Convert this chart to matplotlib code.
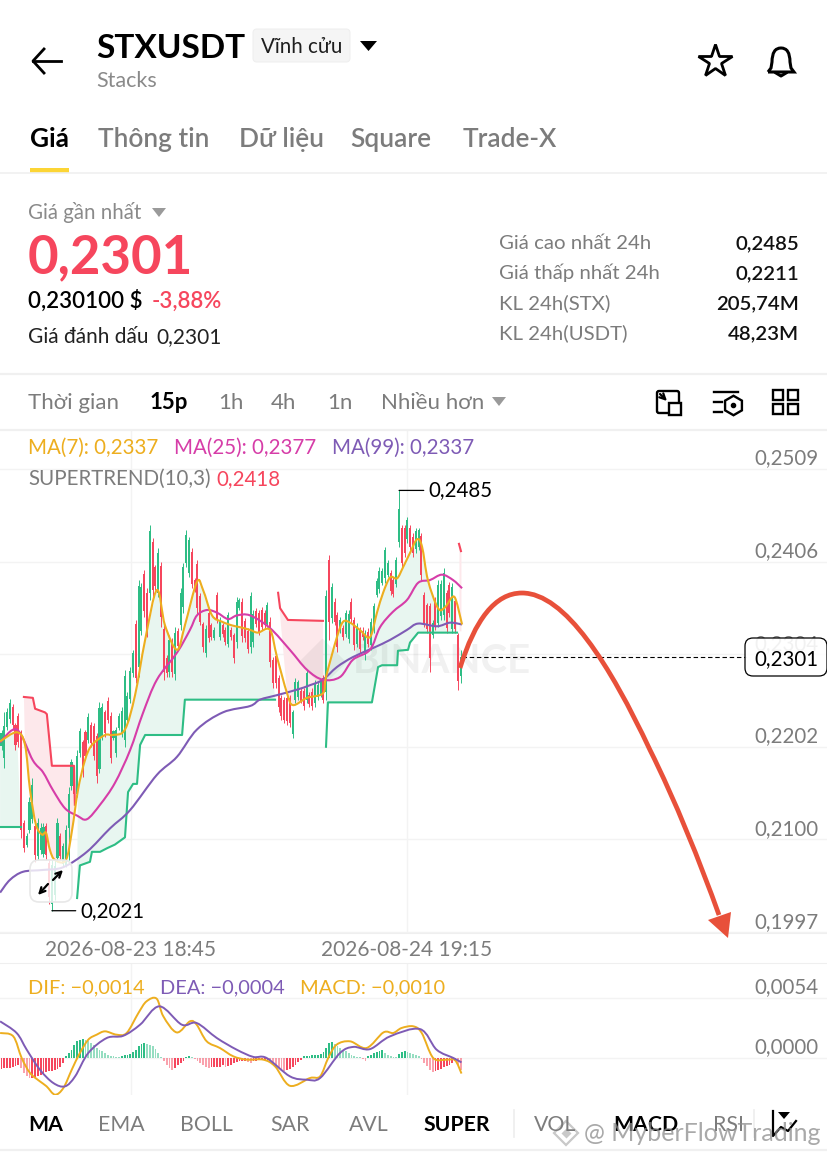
import numpy as np
import matplotlib
matplotlib.use("Agg")
import matplotlib.pyplot as plt
from matplotlib.patches import FancyBboxPatch, Rectangle, PathPatch, Polygon
from matplotlib.path import Path
from matplotlib.transforms import ScaledTranslation

plt.rcParams['font.family'] = ['Lato', 'Noto Sans', 'DejaVu Sans']

# 15 minute candles
opens = [.2203,.2190,.2224,.2233,.2246,.2226,.2236,.2218,.2118,.2094,
         .2110,.2122,.2115,.2081,.2088,.2084,.2114,.2074,.2028,.2038,
         .2079,.2103,.2073,.2072,.2112,.2159,.2178,.2150,.2195,.2207,
         .2218,.2210,.2226,.2225,.2214,.2178,.2214,.2240,.2253,.2236,
         .2212,.2195,.2223,.2217,.2210,.2232,.2255,.2283,.2338,.2290,
         .2330,.2393,.2372,.2372,.2428,.2400,.2372,.2402,.2332,.2300,
         .2285,.2318,.2282,.2330,.2336,.2356,.2405,.2394,.2417,.2386,
         .2404,.2368,.2337,.2306,.2350,.2336,.2322,.2370,.2323,.2336,
         .2331,.2316,.2331,.2325,.2318,.2355,.2362,.2341,.2330,.2312,
         .2318,.2352,.2350,.2353,.2350,.2337,.2340,.2298,.2302,.2278,
         .2256,.2254,.2256,.2256,.2216,.2254,.2257,.2264,.2264,.2254,
         .2259,.2263,.2250,.2257,.2259,.2278,.2262,.2408,.2344,.2362,
         .2347,.2331,.2333,.2327,.2321,.2362,.2342,.2316,.2331,.2330,
         .2303,.2329,.2314,.2332,.2370,.2376,.2383,.2388,.2392,.2394,
         .2386,.2382,.2428,.2443,.2443,.2431,.2443,.2434,.2420,.2422,
         .2435,.2369,.2358,.2357,.2325,.2364,.2339,.2346,.2348,.2372,
         .2381,.2332,.2363,.2325,.2280]
highs = [.2221,.2240,.2245,.2255,.2249,.2228,.2239,.2221,.2121,.2107,
         .2146,.2167,.2118,.2123,.2118,.2118,.2118,.2077,.2077,.2077,
         .2123,.2107,.2096,.2116,.2158,.2188,.2181,.2198,.2223,.2210,
         .2221,.2239,.2229,.2228,.2217,.2251,.2250,.2243,.2257,.2240,
         .2221,.2224,.2239,.2246,.2287,.2262,.2290,.2309,.2342,.2386,
         .2383,.2397,.2377,.2447,.2432,.2403,.2421,.2406,.2336,.2303,
         .2325,.2322,.2334,.2333,.2377,.2405,.2441,.2434,.2421,.2388,
         .2408,.2372,.2340,.2336,.2353,.2339,.2334,.2373,.2345,.2339,
         .2334,.2351,.2334,.2328,.2367,.2366,.2366,.2344,.2333,.2373,
         .2353,.2355,.2353,.2356,.2353,.2362,.2345,.2301,.2306,.2281,
         .2259,.2257,.2259,.2259,.2243,.2278,.2276,.2267,.2267,.2287,
         .2262,.2267,.2276,.2273,.2276,.2281,.2375,.2414,.2383,.2366,
         .2351,.2345,.2336,.2353,.2353,.2366,.2345,.2339,.2334,.2334,
         .2331,.2333,.2344,.2361,.2388,.2400,.2399,.2423,.2408,.2397,
         .2389,.2411,.2485,.2447,.2447,.2456,.2447,.2438,.2444,.2444,
         .2438,.2373,.2361,.2361,.2342,.2367,.2386,.2386,.2399,.2375,
         .2384,.2383,.2367,.2328,.2309]
lows = [.2198,.2179,.2221,.2228,.2221,.2198,.2202,.2101,.2086,.2091,
        .2107,.2118,.2075,.2077,.2084,.2080,.2077,.2028,.2021,.2033,
        .2075,.2077,.2069,.2069,.2077,.2154,.2146,.2146,.2191,.2169,
        .2187,.2206,.2202,.2187,.2162,.2173,.2210,.2213,.2228,.2184,
        .2210,.2191,.2221,.2213,.2202,.2228,.2250,.2279,.2272,.2279,
        .2325,.2345,.2323,.2364,.2366,.2375,.2367,.2334,.2276,.2279,
        .2279,.2279,.2276,.2309,.2331,.2350,.2400,.2389,.2377,.2373,
        .2347,.2336,.2307,.2301,.2318,.2320,.2320,.2339,.2320,.2323,
        .2314,.2312,.2320,.2295,.2311,.2353,.2318,.2318,.2306,.2306,
        .2312,.2334,.2325,.2331,.2333,.2334,.2290,.2267,.2267,.2240,
        .2232,.2228,.2226,.2224,.2212,.2250,.2254,.2250,.2243,.2250,
        .2246,.2243,.2246,.2254,.2257,.2250,.2254,.2320,.2339,.2336,
        .2307,.2328,.2320,.2323,.2317,.2339,.2309,.2312,.2306,.2320,
        .2298,.2312,.2309,.2328,.2367,.2372,.2381,.2383,.2389,.2370,
        .2367,.2378,.2423,.2400,.2411,.2427,.2419,.2411,.2416,.2419,
        .2386,.2334,.2328,.2285,.2322,.2331,.2334,.2342,.2342,.2328,
        .2345,.2328,.2328,.2265,.2272]
closes = [.2217,.2225,.2240,.2250,.2226,.2204,.2207,.2110,.2090,.2104,
          .2141,.2160,.2082,.2118,.2112,.2113,.2082,.2036,.2072,.2070,
          .2118,.2081,.2092,.2110,.2150,.2185,.2150,.2192,.2219,.2175,
          .2192,.2235,.2206,.2192,.2170,.2245,.2246,.2217,.2232,.2190,
          .2219,.2220,.2236,.2242,.2280,.2258,.2286,.2305,.2278,.2380,
          .2378,.2352,.2330,.2440,.2375,.2380,.2416,.2345,.2285,.2283,
          .2320,.2285,.2328,.2313,.2372,.2400,.2436,.2430,.2382,.2376,
          .2355,.2340,.2312,.2332,.2322,.2323,.2331,.2343,.2342,.2326,
          .2318,.2347,.2323,.2300,.2362,.2364,.2324,.2322,.2310,.2368,
          .2349,.2337,.2329,.2334,.2336,.2359,.2296,.2272,.2272,.2246,
          .2236,.2232,.2230,.2228,.2240,.2274,.2273,.2253,.2247,.2283,
          .2249,.2247,.2272,.2270,.2273,.2254,.2368,.2340,.2378,.2340,
          .2312,.2342,.2323,.2350,.2349,.2343,.2314,.2335,.2310,.2323,
          .2326,.2316,.2340,.2357,.2385,.2396,.2396,.2419,.2405,.2374,
          .2371,.2408,.2465,.2405,.2416,.2452,.2423,.2416,.2440,.2441,
          .2392,.2339,.2332,.2300,.2339,.2335,.2381,.2382,.2394,.2333,
          .2350,.2378,.2332,.2275,.2301]

# moving averages, (candle index, price)
ma7_x = [-.5,5.5,8.4,10.2,12.3,14.5,15.9,17.3,19.1,23,25.2,27.3,29.8,32.3,37,39.8,44.1,47.7,51.3,55.5,58.4,62.7,65.5,69.8,72,75.2,78.8,82.3,85.2,88.8,91.6,95.9,98.4,102,104.1,109.1,114.8,115.9,119.8,122,124.5,128,131.6,134.1,136.3,138.8,141.3,143.4,145.9,148.4,150.2,152.3,155.9,158.4,160.9,162.3,164.5]
ma7_y = [.2208,.2218,.2204,.2154,.2116,.2105,.2107,.2088,.2077,.2077,.2110,.2154,.2187,.2204,.2215,.2215,.2221,.2259,.2320,.2375,.2336,.2309,.2336,.2384,.2375,.2347,.2340,.2336,.2334,.2331,.2328,.2331,.2301,.2261,.2248,.2256,.2261,.2279,.2323,.2340,.2339,.2331,.2323,.2350,.2372,.2389,.2388,.2400,.2416,.2431,.2423,.2386,.2355,.2356,.2367,.2364,.2337]
ma25_x = [-.5,5.5,11.2,14.8,18.4,22.7,27,30.5,35.2,40.5,45.9,50.5,55.5,62.7,67.3,69.8,73.4,77,80.9,84.1,88.8,95.9,103,109.1,114.8,120.9,125.5,131.6,135.2,139.8,144.8,148.8,153,157.3,161.3,164.5]
ma25_y = [.2207,.2221,.2187,.2174,.2154,.2134,.2126,.2122,.2138,.2162,.2198,.2239,.2276,.2306,.2331,.2347,.2353,.2350,.2343,.2347,.2347,.2333,.2309,.2287,.2276,.2279,.2298,.2309,.2334,.2351,.2364,.2383,.2386,.2392,.2386,.2377]
ma99_x = [-.5,3,7.7,14.8,22,30.5,38.8,45.9,55.5,62.7,69.8,79.1,88.8,92.3,98.4,105.5,110.2,114.8,119.8,125.5,132.7,138.8,144.8,148.8,155.5,160.2,164.5]
ma99_y = [.2041,.2055,.2064,.2066,.2069,.2086,.2112,.2132,.2171,.2191,.2221,.2240,.2247,.2254,.2259,.2265,.2270,.2276,.2290,.2301,.2311,.2320,.2331,.2338,.2335,.2339,.2337]

# supertrend pieces
st_g1_x = [-.5,7]
st_g1_y = [.2113,.2113]
st_r1_x = [8,11.2,12,15.5,16.2,18,25.9,26.2]
st_r1_y = [.2257,.2256,.2244,.2240,.2238,.2181,.2181,.2138]
st_g2_x = [27,28,31.6,32.3,35.2,37.7,40.5,44.1,45.2,47,48.4,49.5,51.3,53,64.5,65.5,66.6,97.7]
st_g2_y = [.2035,.2071,.2075,.2086,.2086,.2090,.2094,.2102,.2152,.2161,.2161,.2204,.2215,.2215,.2215,.2254,.2254,.2254]
st_r2_x = [98.8,99.5,102.3,114.8]
st_r2_y = [.2372,.2355,.2342,.2341]
st_g3_x = [115.9,116.6,132.3,134.5,135.9,141.3,141.6,145.2,145.9,148.8,162.7]
st_g3_y = [.2202,.2251,.2251,.2290,.2292,.2292,.2308,.2309,.2317,.2328,.2328]
st_r3_x = [163.4,164.1]
st_r3_y = [.2426,.2418]

# macd, in units of 0.0001
macd_hist = [-9.6,-9.3,-9.0,-8.7,-8.1,-7.5,-6.6,-9.0,-13.5,-16.5,
             -18,-18,-17.4,-16.5,-15,-13.5,-12.6,-12,-11.4,-10.5,
             -9.6,-8.4,-4.5,1.5,4.5,7.5,12,15,16.5,17.1,
             16.5,15,13.5,11.4,9,7.5,6,4.5,3,2.1,
             1.5,.9,.6,1.5,2.4,3,3.6,5.4,7.5,10.5,
             12.6,13.5,12.9,12,10.5,8.4,4.5,.9,-3,-6,
             -9,-10.5,-9,-6.6,-4.5,-2.4,.9,1.8,.9,-.9,
             -2.4,-4.5,-6.6,-8.4,-9,-8.4,-8.4,-7.8,-7.8,-6.6,
             -7.8,-7.5,-6,-4.5,-3.6,-3,-2.4,-2.4,-3.6,-4.2,
             -3,-2.4,-1.8,-1.5,-1.5,-1.5,-2.4,-4.5,-7.5,-9,
             -10.8,-11.4,-10.5,-9.6,-7.8,-6,-3.6,-1.5,1.8,2.1,
             2.1,2.4,2.7,3,3.6,5.4,9,13.5,14.4,12.6,
             10.5,9,7.5,6,4.5,2.4,1.8,1.2,.6,-.9,
             -3,1.5,3,4.2,5.4,6.6,7.2,4.8,3,2.1,
             1.2,.9,3.6,5.4,6,5.4,4.8,3.6,2.4,1.5,
             -.9,-4.5,-7.5,-10.5,-12.6,-11.4,-10.8,-9.6,-8.4,-7.5,
             -6.6,-4.5,-3,-6,-10.5]
dif_x = [-.5,4.2,7.2,10.2,13.7,16.1,19.1,22.1,25.1,28,31,34,37,41.1,44.7,48.9,51.8,55.4,57.8,62.6,67.3,69.7,73.3,78,82.8,87.6,93.5,97.7,103,110.2,113.8,116.7,119.7,124.5,130.4,136.4,139.9,142.9,147.1,150.1,154.2,159,162,164.3]
dif_y = [22.5,19.5,0,-13.5,-21,-25.5,-33,-27,-10.5,4.5,16.5,21,24,21,22.5,40.5,51,53.4,37.5,23,33,30,15,9,1.5,-1.5,-1.5,-7.5,-25,-18,-16.5,0,12,15,9,23,22.5,27,28.5,22.5,0,-1.5,-2,-14]
dea_x = [-.5,5.4,9,13.7,18.5,22.7,26.3,31,37.6,43.5,49.5,56.4,64.4,69.7,76.9,84,89.9,94.7,103,109,113.8,120.9,125.7,131.6,138.8,149.5,155.4,161.4,164.3]
dea_y = [33,22.5,7.5,-10.5,-22.5,-25.5,-16.5,4.5,18,20,30,46.5,30,31.5,18,7.5,1,0,-16.5,-19.5,-18,4.5,10,8,19.5,26,7.5,0,-4]

price_ticks = [.2509,.2406,.2304,.2202,.2100,.1997]
macd_ticks = [.0054,0]
date_ticks = [46.25,144.8]
date_labels = ["2026-08-23 18:45","2026-08-24 19:15"]
last_price = .2301

green = "#2EBD85"
red = "#F6465D"
yellow = "#EDAE1F"
magenta = "#D63DA8"
purple = "#7E5BB5"
grey = "#7C7C7C"
line_grey = "#F3F3F3"

W, H = 828, 1158
fig = plt.figure(figsize=(W/100, H/100), dpi=100, facecolor="white")
ax = fig.add_axes([0, 1-933/H, 1, 503/H])
ax2 = fig.add_axes([0, 1-1095/H, 1, 132/H])
ui = fig.add_axes([0, 0, 1, 1], zorder=5)
ui.set_xlim(0, W)
ui.set_ylim(H, 0)
ui.axis("off")
ui.patch.set_alpha(0)

xlim = (-.536, 295.2)


def fmt(v):
    return f"{v:.4f}".replace(".", ",")


def style_axis(a, ticks, lift):
    a.set_xlim(*xlim)
    a.set_yticks(ticks)
    a.set_yticklabels([fmt(v) for v in ticks], va="bottom", ha="right")
    a.yaxis.tick_right()
    a.tick_params(axis="y", length=0, pad=-7, labelsize=14.8, labelcolor=grey)
    for lab in a.get_yticklabels():
        lab.set_transform(lab.get_transform() + ScaledTranslation(0, lift/100, fig.dpi_scale_trans))
    a.set_xticks(date_ticks)
    a.grid(color=line_grey, lw=1)
    a.set_axisbelow(True)
    for s in ["left", "right"]:
        a.spines[s].set_visible(False)
    for s in ["top", "bottom"]:
        a.spines[s].set_color("#EFEFEF")


def smooth(a, xs, ys, color, lw, z):
    # curve through the read points so the averages do not look faceted
    p = np.column_stack([xs, ys])
    verts = [p[0]]
    for i in range(len(p)-1):
        before = p[max(i-1, 0)]
        after = p[min(i+2, len(p)-1)]
        verts += [p[i]+(p[i+1]-before)/6, p[i+1]-(after-p[i])/6, p[i+1]]
    codes = [Path.MOVETO] + [Path.CURVE4]*(len(verts)-1)
    a.add_patch(PathPatch(Path(verts, codes), fc="none", ec=color, lw=lw, zorder=z))


# price panel
style_axis(ax, price_ticks, .5)
ax.set_ylim(.19964, .25517)
ax.spines["top"].set_visible(False)
ax.set_xticklabels(date_labels)
ax.tick_params(axis="x", length=0, pad=5, labelsize=15, labelcolor=grey)

ax.text(125.5, .2296, "BINANCE", fontsize=29, fontweight="bold", color=(0, 0, 0, .055), va="center", zorder=1.2)
ax.plot([114.5], [.2296], marker="D", ms=24, mfc=(0, 0, 0, .05), mec="none", zorder=1.2)


def band(sx, sy, color):
    # area between a supertrend piece and the MA7 line
    low = [(a, b) for a, b in zip(ma7_x, ma7_y) if sx[0] <= a <= sx[-1]]
    pts = list(zip(sx, sy)) + low[::-1]
    ax.add_patch(Polygon(pts, closed=True, fc=color, ec="none", zorder=1))


for sx, sy in [(st_g1_x, st_g1_y), (st_g2_x, st_g2_y), (st_g3_x, st_g3_y)]:
    band(sx, sy, "#E8F6F0")
for sx, sy in [(st_r1_x, st_r1_y), (st_r2_x, st_r2_y)]:
    band(sx, sy, "#FDE8EB")
ax.fill_between(st_r3_x, [.2426, .2418], [.2330, .2330], color="#FDE8EB", lw=0, zorder=1)

x = np.arange(len(opens))
o = np.array(opens)
c = np.array(closes)
colors = [green if b >= a else red for a, b in zip(o, c)]
ax.vlines(x, lows, highs, colors=colors, lw=.7, zorder=2)
ax.bar(x, np.abs(c-o), bottom=np.minimum(o, c), width=.72, color=colors, lw=0, zorder=2.1)

for sx, sy in [(st_g1_x, st_g1_y), (st_g2_x, st_g2_y), (st_g3_x, st_g3_y)]:
    ax.plot(sx, sy, color=green, lw=1.5, zorder=3)
for sx, sy in [(st_r1_x, st_r1_y), (st_r2_x, st_r2_y), (st_r3_x, st_r3_y)]:
    ax.plot(sx, sy, color=red, lw=1.5, zorder=3)

smooth(ax, ma99_x, ma99_y, purple, 1.5, 4)
smooth(ax, ma25_x, ma25_y, magenta, 1.5, 4.1)
smooth(ax, ma7_x, ma7_y, yellow, 1.5, 4.2)

ax.hlines(last_price, 164.5, 266, color="black", lw=.8, linestyles=(0, (4, 2.5)), zorder=4)

hi_i = int(np.argmax(highs))
lo_i = int(np.argmin(lows))
ax.annotate(fmt(highs[hi_i]), xy=(hi_i, highs[hi_i]), xytext=(152.3, highs[hi_i]), va="center", fontsize=14.8, color="black",
            arrowprops=dict(arrowstyle="-", lw=.9, color="black", shrinkA=1, shrinkB=0), zorder=6)
ax.annotate(fmt(lows[lo_i]), xy=(lo_i, lows[lo_i]), xytext=(28, lows[lo_i]), va="center", fontsize=14.8, color="black",
            arrowprops=dict(arrowstyle="-", lw=.9, color="black", shrinkA=1, shrinkB=0), zorder=6)

# macd panel
style_axis(ax2, macd_ticks, 1)
ax2.set_ylim(-.00333, .00855)
ax2.set_xticklabels([])
ax2.spines["bottom"].set_visible(False)
ax2.tick_params(axis="x", length=0)
hist = np.array(macd_hist)
prev = np.concatenate([[hist[0]-1], hist[:-1]])
rising = hist >= prev
hx = np.arange(len(hist))
for i in hx:
    base = green if hist[i] >= 0 else red
    ax2.bar(i, hist[i]*1e-4, width=.62, color=base, alpha=1 if rising[i] else .5, lw=0, zorder=2)
smooth(ax2, dif_x, np.array(dif_y)*1e-4, yellow, 1.4, 3)
smooth(ax2, dea_x, np.array(dea_y)*1e-4, purple, 1.4, 3.1)


# text of the app screen, in screen pixels
def t(px, py, s, size=14.8, color=grey, weight="normal", ha="left", **kw):
    return ui.text(px, py, s, fontsize=size, color=color, fontweight=weight, ha=ha, va="baseline", **kw)


def hr(py, lw=1.2):
    ui.plot([0, W], [py, py], color="#F0F0F0", lw=lw)


# header
ui.plot([33, 61], [61, 61], color="black", lw=2)
ui.plot([44, 33, 44], [49, 61, 73], color="black", lw=2)
t(96, 58, "STXUSDT", 24, "black", "bold")
ui.add_patch(FancyBboxPatch((256, 32), 91, 27, boxstyle="round,pad=3,rounding_size=4", fc="#F5F5F5", ec="#EFEFEF", lw=.8))
t(301.5, 53, "Vĩnh cửu", 14.8, "#1E1E1E", ha="center")
ui.add_patch(Polygon([(360, 41), (377, 41), (368.5, 51)], fc="black", ec="none"))
t(96, 87, "Stacks", 15.5, "#8A8A8A")
ui.plot([715], [61], marker="*", ms=25, mfc="white", mec="black", mew=2)
bell = Path([(768, 72), (771, 68), (772, 62), (772, 48), (781, 48), (790, 48), (790, 62), (791, 68), (794, 72), (768, 72)],
            [Path.MOVETO, Path.LINETO, Path.LINETO, Path.CURVE3, Path.CURVE3, Path.CURVE3, Path.LINETO, Path.LINETO, Path.LINETO, Path.LINETO])
ui.add_patch(PathPatch(bell, fc="white", ec="black", lw=2.2))
ui.plot([776, 781, 786], [73, 76, 73], color="black", lw=2.2)

tabs = [(30, "Giá"), (98, "Thông tin"), (239, "Dữ liệu"), (350, "Square"), (463, "Trade-X")]
for i, (px, s) in enumerate(tabs):
    t(px, 147, s, 18.9, "black" if i == 0 else grey, "bold" if i == 0 else "semibold")
ui.add_patch(Rectangle((30, 168), 39, 5, fc="#FCD535", ec="none"))
hr(173)

# price block
t(28, 219, "Giá gần nhất", 14.8, "#8A8A8A")
ui.add_patch(Polygon([(152, 208), (166, 208), (159, 217)], fc="#9A9A9A", ec="none"))
t(28, 273, "0,2301", 38, red, "bold")
t(28, 308, "0,230100 $", 16, "black", "semibold")
t(152, 308, "-3,88%", 16, red, "semibold")
t(28, 343, "Giá đánh dấu", 15, "#222222")
t(156, 343, "0,2301", 15, "#222222")
rows = [("Giá cao nhất 24h", "0,2485"), ("Giá thấp nhất 24h", "0,2211"), ("KL 24h(STX)", "205,74M"), ("KL 24h(USDT)", "48,23M")]
for i, (a, b) in enumerate(rows):
    t(499, 249+30*i, a, 14.7, grey)
    t(799, 249+30*i, b, 14.7, "#111111", "semibold", ha="right")
hr(374, 1.6)

# interval row
for px, s, wt, col in [(28, "Thời gian", "normal", grey), (150, "15p", "bold", "black"), (218, "1h", "normal", grey),
                       (271, "4h", "normal", grey), (327, "1n", "normal", grey), (381, "Nhiều hơn", "normal", grey)]:
    t(px, 409, s, 16, col, wt)
ui.add_patch(Polygon([(492, 397), (506, 397), (499, 406)], fc="#9A9A9A", ec="none"))
# icons
ui.add_patch(FancyBboxPatch((657, 391), 22, 22, boxstyle="round,pad=0,rounding_size=2", fc="none", ec="black", lw=1.7))
ui.add_patch(Rectangle((669, 403), 12, 12, fc="white", ec="black", lw=1.7))
ui.annotate("", xy=(667, 401), xytext=(660, 394), arrowprops=dict(arrowstyle="->", lw=1.6, color="black", shrinkA=0, shrinkB=0))
ui.plot([714, 738], [392, 392], color="black", lw=1.7)
ui.plot([714, 722], [402, 402], color="black", lw=1.7)
ui.plot([714, 722], [412, 412], color="black", lw=1.7)
ui.plot([733], [405], marker="h", ms=14, mfc="white", mec="black", mew=1.7)
ui.plot([733], [405], marker="o", ms=3, color="black")
for px, py in [(773, 390), (788, 390), (773, 404), (788, 404)]:
    ui.add_patch(Rectangle((px, py), 10, 10, fc="white", ec="black", lw=1.7))
hr(430, 1.6)

# legends
t(28, 454, "MA(7): 0,2337", 14.8, yellow)
t(174, 454, "MA(25): 0,2377", 14.8, magenta)
t(332, 454, "MA(99): 0,2337", 14.8, purple)
t(28, 485, "SUPERTREND(10,3)", 14.8, grey)
t(216, 485, "0,2418", 14.8, red)
t(28, 993, "DIF: −0,0014", 14.4, yellow)
t(160, 993, "DEA: −0,0004", 14.4, purple)
t(300, 993, "MACD: −0,0010", 14.4, yellow)

# expand button over the chart
ui.add_patch(FancyBboxPatch((32, 862), 38, 38, boxstyle="round,pad=2,rounding_size=9", fc=(1, 1, 1, .8), ec="#E8E8E8", lw=1.2))
ui.annotate("", xy=(38, 895), xytext=(48, 884), arrowprops=dict(arrowstyle="->", lw=1.6, color="black", shrinkA=0, shrinkB=0))
ui.annotate("", xy=(63, 870), xytext=(53, 880), arrowprops=dict(arrowstyle="->", lw=1.6, color="black", shrinkA=0, shrinkB=0))

# last price tag
ui.add_patch(FancyBboxPatch((749, 642), 74, 30, boxstyle="round,pad=4,rounding_size=8", fc=(1, 1, 1, .9), ec="black", lw=.9))
t(786, 665, fmt(last_price), 14.8, "black", ha="center")

# hand drawn arrow
curve = Path([(460, 668), (475, 620), (495, 593), (522, 593), (565, 593), (610, 665), (650, 750), (675, 800), (700, 862), (719, 915)],
             [Path.MOVETO] + [Path.CURVE4]*9)
ui.add_patch(PathPatch(curve, fc="none", ec="#E8503A", lw=3.4, capstyle="butt"))
ui.add_patch(Polygon([(708, 920), (731, 912), (728, 938)], fc="#E8503A", ec="none"))

# bottom tabs
for px, s, wt, col in [(28, "MA", "bold", "black"), (98, "EMA", "normal", grey), (180, "BOLL", "normal", grey), (270, "SAR", "normal", grey),
                       (349, "AVL", "normal", grey), (424, "SUPER", "bold", "black"), (534, "VOL", "normal", grey),
                       (613, "MACD", "bold", "black"), (713, "RSI", "normal", grey)]:
    t(px, 1131, s, 15.3, col, wt)
ui.plot([514, 514], [1110, 1137], color="#EDEDED", lw=1.2)
ui.plot([754, 754], [1110, 1137], color="#EDEDED", lw=1.2)
ui.plot([773, 773, 781, 788, 796], [1111, 1136, 1127, 1131, 1121], color="black", lw=1.6)
ui.add_patch(Polygon([(778, 1112), (790, 1112), (784, 1119)], fc="black", ec="none"))
hr(1150, 1.6)

# platform watermark
ui.plot([566], [1133], marker="D", ms=12, mfc="none", mec="#C9C9C9", mew=1.6)
ui.plot([566], [1133], marker="D", ms=5, mfc="#C9C9C9", mec="none")
t(584, 1141, "@ MyberFlowTrading", 18, (.55, .55, .55, .75))

fig.savefig("out.png", dpi=100)
